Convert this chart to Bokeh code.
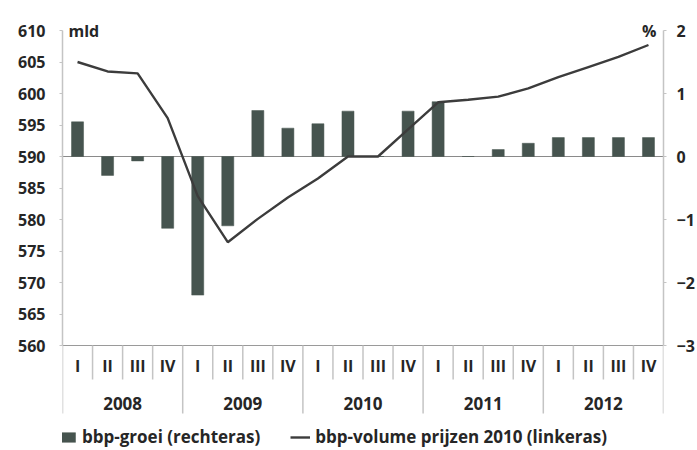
import numpy as np
from bokeh.plotting import figure
from bokeh.models import Range1d, LinearAxis, FixedTicker, Span, Legend, LegendItem, Label
from bokeh.embed import file_html
from bokeh.resources import INLINE
from bokeh.core.properties import value

# ---------------- data ----------------
years = ["2008", "2009", "2010", "2011", "2012"]
quarters = ["I", "II", "III", "IV"]
# bbp-groei (%), right axis
growth = [0.55, -0.30, -0.07, -1.14, -2.20, -1.10, 0.73, 0.45,
          0.52, 0.72, 0.00, 0.72, 0.87, 0.00, 0.11, 0.21,
          0.30, 0.30, 0.30, 0.30]
# bbp-volume prijzen 2010 (mld), left axis
volume = [605.0, 603.5, 603.2, 596.1, 583.7, 576.4, 580.1, 583.5,
          586.5, 590.0, 590.0, 594.3, 598.6, 599.0, 599.5, 600.8,
          602.6, 604.2, 605.8, 607.7]
left_ticks = [560, 565, 570, 575, 580, 585, 590, 595, 600, 605, 610]
right_ticks = [-3, -2, -1, 0, 1, 2]
legend_labels = ["bbp-groei (rechteras)", "bbp-volume prijzen 2010 (linkeras)"]

# ---------------- layout ----------------
W, H = 697, 450
TOP_PX, BASE_PX = 30, 345          # pixel rows of the top (610) and bottom (560) ticks
lo_l, hi_l = left_ticks[0], left_ticks[-1]
px_per_unit = (BASE_PX - TOP_PX) / (hi_l - lo_l)
y_hi = hi_l + TOP_PX / px_per_unit
y_lo = lo_l - (H - BASE_PX) / px_per_unit
zero_l = 590.0
scale = 10.0  # 1 % on right axis = 10 mld on left axis

n_cat = len(years) * len(quarters)
cat_labels = [q for _ in years for q in quarters]
centers = np.arange(n_cat) + 0.5
year_centers = (np.arange(len(years)) + 0.5) * len(quarters)
bounds_all = np.arange(n_cat + 1)
year_bounds = bounds_all[bounds_all % len(quarters) == 0]
q_bounds = bounds_all[bounds_all % len(quarters) != 0]

FONT = "Open Sans"
TXT = "#262626"
AX = "#c4c4c4"
BAR = "#46544f"
LINE = "#3c3c3c"

p = figure(width=W, height=H, x_range=Range1d(0, n_cat), y_range=Range1d(y_lo, y_hi),
           output_backend="svg", toolbar_location=None,
           x_axis_location=None, y_axis_location=None,
           min_border_left=62, min_border_right=30, min_border_top=0, min_border_bottom=0,
           outline_line_color=None, background_fill_color="white", border_fill_color="white")
p.xgrid.visible = False
p.ygrid.visible = False

p.extra_y_ranges = {"pct": Range1d((y_lo - zero_l) / scale, (y_hi - zero_l) / scale)}


def style_axis(ax, standoff):
    ax.axis_line_color = AX
    ax.axis_line_width = 1.5
    ax.major_tick_line_color = AX
    ax.major_tick_out = 3
    ax.major_tick_in = 0
    ax.minor_tick_line_color = None
    ax.major_label_text_font = FONT
    ax.major_label_text_font_style = "bold"
    ax.major_label_text_font_size = "16px"
    ax.major_label_text_color = TXT
    ax.major_label_standoff = standoff


left_axis = LinearAxis(ticker=FixedTicker(ticks=left_ticks), bounds=(lo_l, hi_l))
style_axis(left_axis, 14)
p.add_layout(left_axis, "left")

right_axis = LinearAxis(y_range_name="pct", ticker=FixedTicker(ticks=right_ticks),
                        bounds=(right_ticks[0], right_ticks[-1]))
style_axis(right_axis, 10)
p.add_layout(right_axis, "right")

# zero line and base line
zero_span = Span(location=zero_l, dimension="width", line_color="#8a8a8a", line_width=1.2, level="underlay")
base_span = Span(location=lo_l, dimension="width", line_color="#9a9a9a", line_width=1.2, level="underlay")
p.add_layout(zero_span)
p.add_layout(base_span)

# bars (right axis)
bars = p.vbar(x=centers, top=growth, bottom=0, width=0.4, y_range_name="pct",
              fill_color=BAR, line_color=BAR, line_width=0.5)

# line (left axis)
line = p.line(x=centers, y=volume, line_color=LINE, line_width=2.4)

# category axis drawn below the base line
p.ray(x=q_bounds, y=lo_l, length=34, angle=-np.pi / 2, length_units="screen",
      line_color=AX, line_width=1.5)
p.ray(x=year_bounds, y=lo_l, length=68, angle=-np.pi / 2, length_units="screen",
      line_color=AX, line_width=1.5)
p.text(x=centers, y=lo_l, text=cat_labels, y_offset=20, text_align="center",
       text_baseline="middle", text_font=value(FONT), text_font_style="bold",
       text_font_size="16px", text_color=TXT)
p.text(x=year_centers, y=lo_l, text=years, y_offset=58, text_align="center",
       text_baseline="middle", text_font=value(FONT), text_font_style="bold",
       text_font_size="17px", text_color=TXT)

# unit labels
p.add_layout(Label(x=0, y=hi_l, x_offset=6, text="mld", text_baseline="middle",
                   text_font=FONT, text_font_style="bold", text_font_size="16px", text_color=TXT))
p.add_layout(Label(x=n_cat, y=hi_l, x_offset=-7, text="%", text_align="right", text_baseline="middle",
                   text_font=FONT, text_font_style="bold", text_font_size="16px", text_color=TXT))

legend = Legend(items=[LegendItem(label=legend_labels[0], renderers=[bars]),
                       LegendItem(label=legend_labels[1], renderers=[line])],
                orientation="horizontal", location=(-5, 2),
                padding=0, margin=0, spacing=30, label_standoff=5,
                glyph_width=20, glyph_height=12, label_height=14,
                border_line_color=None, background_fill_alpha=0,
                label_text_font=FONT, label_text_font_style="bold",
                label_text_font_size="17px", label_text_color=TXT)
p.add_layout(legend)

open("out.html", "w").write(file_html(p, INLINE))
